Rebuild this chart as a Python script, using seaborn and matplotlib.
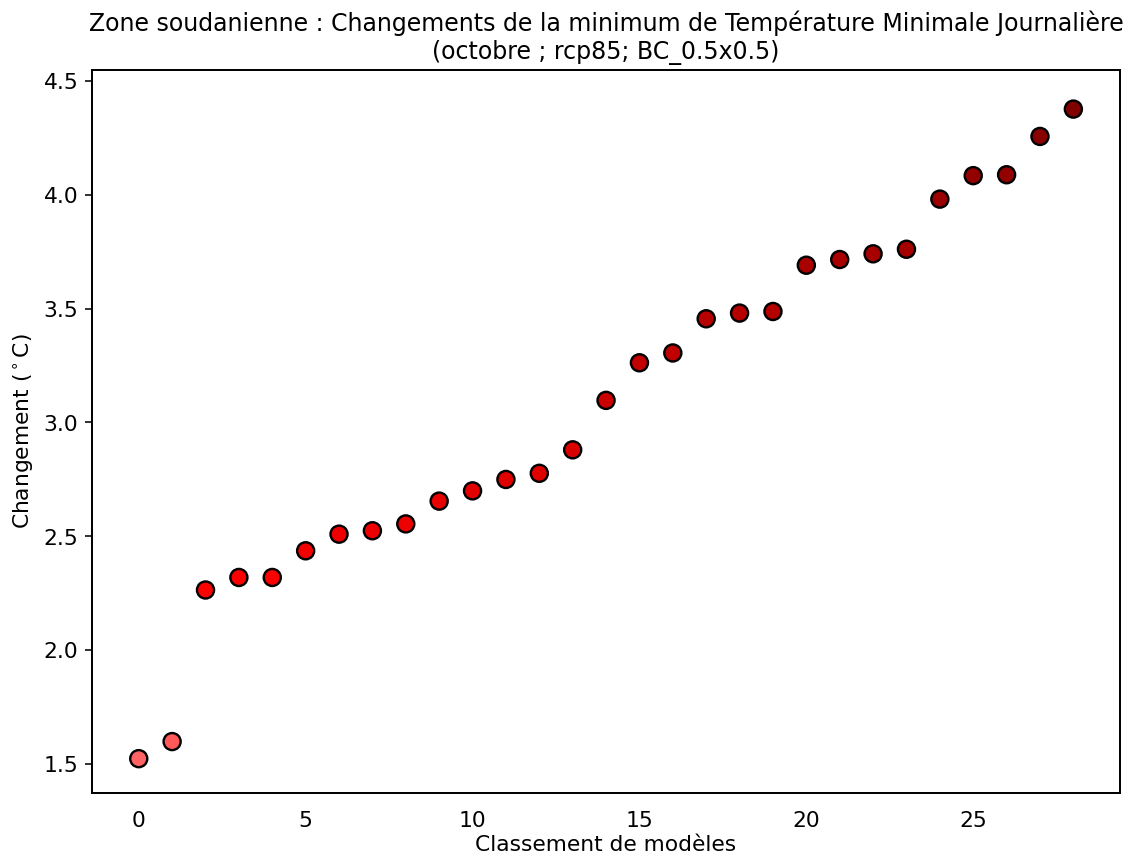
import numpy as np
import pandas as pd
import matplotlib
matplotlib.use("Agg")
import matplotlib.pyplot as plt
import seaborn as sns
from matplotlib.colors import LinearSegmentedColormap

# données
rang = list(range(29))
changement = [1.525, 1.60, 2.265, 2.32, 2.32, 2.437, 2.51, 2.525, 2.555,
              2.655, 2.70, 2.75, 2.777, 2.88, 3.097, 3.262, 3.305, 3.455,
              3.48, 3.487, 3.69, 3.715, 3.74, 3.76, 3.98, 4.083, 4.087,
              4.255, 4.375]

titre = ("Zone soudanienne : Changements de la minimum de Température Minimale Journalière\n"
         "(octobre ; rcp85; BC_0.5x0.5)")

df = pd.DataFrame({"rang": rang, "changement": changement})

# palette rouge clair -> rouge -> rouge foncé
rouges = LinearSegmentedColormap.from_list(
    "rouges", [(0.0, "#ff6666"), (0.25, "#ff0000"), (1.0, "#800000")])

fig, ax = plt.subplots(figsize=(8, 6.05), dpi=142)
fig.subplots_adjust(left=0.081, right=0.986, top=0.918, bottom=0.077)

sns.scatterplot(data=df, x="rang", y="changement", hue="changement",
                palette=rouges, hue_norm=(1.5, 4.4), s=75,
                edgecolor="black", linewidth=1.2, legend=False, ax=ax)

ax.set_title(titre, fontsize=12)
ax.set_xlabel("Classement de modèles", fontsize=11, labelpad=2)
ax.set_ylabel(r"Changement ($^\circ$C)", fontsize=11)
ax.set_ylim(1.375, 4.545)
ax.set_yticks([1.5, 2.0, 2.5, 3.0, 3.5, 4.0, 4.5])
ax.set_xticks([0, 5, 10, 15, 20, 25])
ax.tick_params(axis="x", length=0, pad=9)
ax.tick_params(labelsize=11)
for sp in ax.spines.values():
    sp.set_linewidth(1.0)

fig.savefig("out.png", dpi=142)
